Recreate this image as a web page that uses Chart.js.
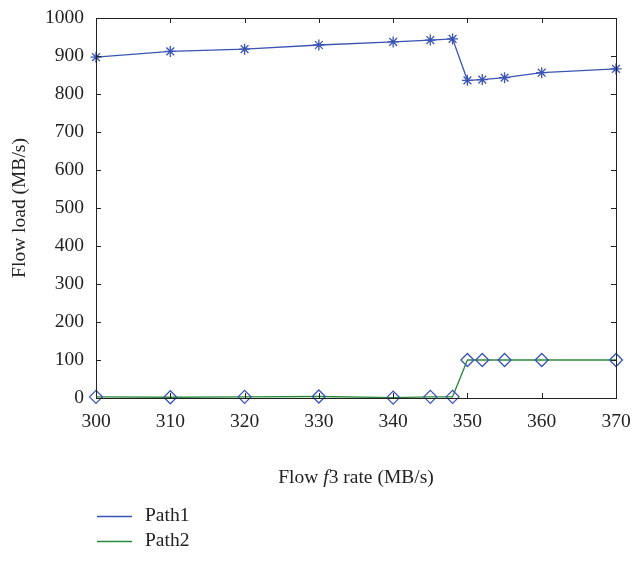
<!DOCTYPE html>
<html lang="en">
  <head>
    <meta charset="UTF-8">
    <title>Flow load</title>
    <script src="https://cdn.jsdelivr.net/npm/chart.js@4.4.0/dist/chart.umd.min.js"></script>
    <style>
      body { margin: 0; background: #fff; }
      #wrap { width: 635px; height: 561px; }
    </style>
  </head>
  <body>
    <div id="wrap"><canvas id="myChart" width="635" height="561"></canvas></div>
    <script>
      const rates = [300, 310, 320, 330, 340, 345, 348, 350, 352, 355, 360, 370];
      const path1 = [897, 912, 918, 929, 937, 942, 945, 836, 838, 843, 856, 866];
      const path2 = [3, 2, 3, 4, 1, 3, 3, 100, 100, 100, 100, 100];
      const seriesNames = ['Path1', 'Path2'];

      const BLUE = '#3a54b4';
      const GREEN = '#2a8a3a';
      const FONT = '"Liberation Serif", "DejaVu Serif", serif';
      const FS = 19.5;

      const toPoints = vals => vals.map((v, i) => ({ x: rates[i], y: v }));

      // frame, inward ticks, x title and legend
      const decor = {
        id: 'decor',
        afterDraw(chart) {
          const { ctx, chartArea: a, scales } = chart;
          ctx.save();
          ctx.strokeStyle = '#222';
          ctx.lineWidth = 1;
          ctx.strokeRect(a.left + 0.5, a.top + 0.5, a.right - a.left, a.bottom - a.top);
          const len = 5;
          ctx.beginPath();
          scales.x.ticks.forEach(t => {
            const px = Math.round(scales.x.getPixelForValue(t.value)) + 0.5;
            ctx.moveTo(px, a.bottom); ctx.lineTo(px, a.bottom - len);
            ctx.moveTo(px, a.top); ctx.lineTo(px, a.top + len);
          });
          scales.y.ticks.forEach(t => {
            const py = Math.round(scales.y.getPixelForValue(t.value)) + 0.5;
            ctx.moveTo(a.left, py); ctx.lineTo(a.left + len, py);
            ctx.moveTo(a.right, py); ctx.lineTo(a.right - len, py);
          });
          ctx.stroke();

          // x axis title with italic f
          ctx.fillStyle = '#222';
          ctx.textBaseline = 'middle';
          const parts = [['Flow ', ''], ['f', 'italic '], ['3 rate (MB/s)', '']];
          let total = 0;
          parts.forEach(p => { ctx.font = p[1] + FS + 'px ' + FONT; total += ctx.measureText(p[0]).width; });
          let x = (a.left + a.right) / 2 - total / 2;
          const ty = 478;
          parts.forEach(p => {
            ctx.font = p[1] + FS + 'px ' + FONT;
            ctx.fillText(p[0], x, ty);
            x += ctx.measureText(p[0]).width;
          });

          // legend
          ctx.font = FS + 'px ' + FONT;
          chart.data.datasets.forEach((ds, i) => {
            const ly = 516 + i * 25;
            ctx.strokeStyle = ds.borderColor;
            ctx.lineWidth = 1.3;
            ctx.beginPath();
            ctx.moveTo(97, ly + 0.5); ctx.lineTo(132, ly + 0.5);
            ctx.stroke();
            ctx.fillText(ds.label, 145, ly);
          });
          ctx.restore();
        }
      };

      const ctx = document.getElementById('myChart').getContext('2d');
      new Chart(ctx, {
        type: 'line',
        data: {
          datasets: [
            {
              label: seriesNames[0],
              data: toPoints(path1),
              borderColor: BLUE,
              borderWidth: 1.3,
              pointStyle: 'star',
              pointRadius: 5.5,
              pointBorderColor: BLUE,
              pointBorderWidth: 1.3,
              pointBackgroundColor: BLUE,
              tension: 0,
              clip: false
            },
            {
              label: seriesNames[1],
              data: toPoints(path2),
              borderColor: GREEN,
              borderWidth: 1.3,
              pointStyle: 'rectRot',
              pointRadius: 6.5,
              pointBorderColor: BLUE,
              pointBorderWidth: 1.3,
              pointBackgroundColor: 'rgba(0,0,0,0)',
              tension: 0,
              clip: false
            }
          ]
        },
        options: {
          responsive: false,
          animation: false,
          layout: { padding: { left: 0, top: 18, right: 19, bottom: 0 } },
          plugins: { legend: { display: false }, tooltip: { enabled: false } },
          scales: {
            x: {
              type: 'linear',
              min: 300, max: 370,
              grid: { display: false, drawTicks: false },
              border: { display: false },
              ticks: { stepSize: 10, padding: 12, color: '#222', font: { family: FONT, size: FS } },
              afterFit: s => { s.height = 163; s.paddingLeft = 0; s.paddingRight = 0; }
            },
            y: {
              min: 0, max: 1000,
              grid: { display: false, drawTicks: false },
              border: { display: false },
              ticks: { stepSize: 100, padding: 12, color: '#222', font: { family: FONT, size: FS }, callback: v => String(v) },
              title: { display: true, text: 'Flow load (MB/s)', color: '#222', padding: { top: 8, bottom: 0 }, font: { family: FONT, size: FS } },
              afterFit: s => { s.width = 96; s.paddingTop = 0; s.paddingBottom = 0; }
            }
          }
        },
        plugins: [decor]
      });
    </script>
  </body>
</html>
